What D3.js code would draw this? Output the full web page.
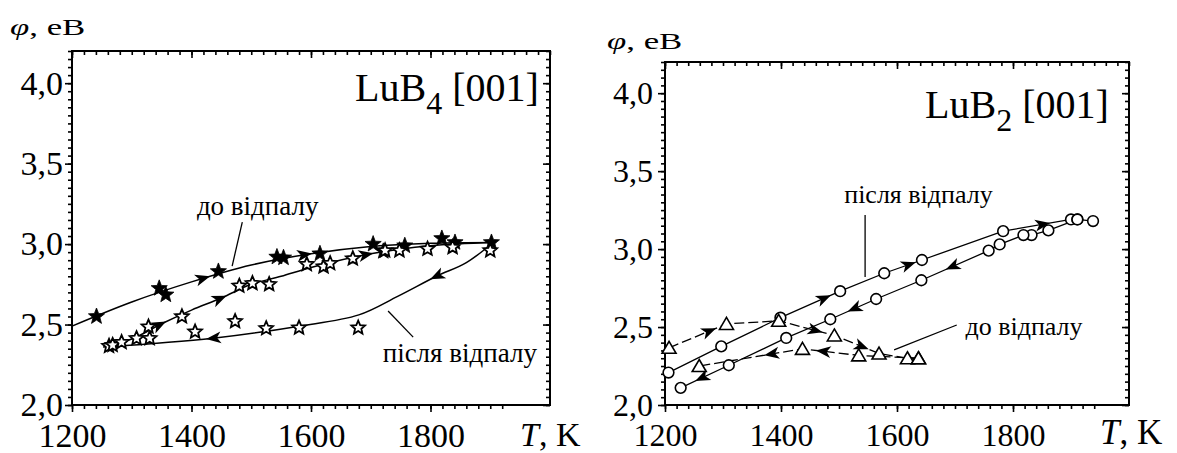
<!DOCTYPE html>
<meta http-equiv="Content-type" content="text/html; charset=UTF-8"/>
<style>
body { margin: 0; background: #fff }
svg { display: block }
svg, svg text { font-family: 'Liberation Serif', 'Times New Roman', serif }
</style>
<svg width="1177" height="453" font-family="Liberation Serif"></svg>
<script src="https://d3js.org/d3.v7.min.js"></script>
<script>
// ---------- LuB4 [001] (left) ----------
// measured points [T, phi]
var lub4BeforePts = [[1241,2.55],[1346,2.725],[1357,2.685],[1445,2.83],[1543,2.92],[1554,2.915],
  [1615,2.94],[1704,3.0],[1721,2.955],[1757,2.99],[1819,3.035],[1841,3.01],[1902,3.01]];
var lub4AfterPts = [[1262,2.366],[1268,2.372],[1283,2.39],[1308,2.414],[1330,2.414],[1328,2.486],
  [1384,2.55],[1406,2.455],[1473,2.52],[1480,2.74],[1502,2.756],[1530,2.75],[1525,2.476],
  [1580,2.48],[1593,2.875],[1621,2.86],[1632,2.88],[1670,2.91],[1679,2.48],[1724,2.96],
  [1748,2.96],[1795,2.97],[1837,2.98],[1900,2.96]];
// hand drawn fit curves, in drawing order
var lub4BeforeFit = [[1200,2.49],[1300,2.64],[1400,2.765],[1500,2.87],[1600,2.94],[1700,2.985],[1800,3.005],[1910,3.01]];
var lub4HeatFit = [[1255,2.365],[1300,2.41],[1350,2.505],[1400,2.59],[1450,2.665],[1500,2.75],[1550,2.80],
  [1600,2.855],[1700,2.94],[1800,2.99],[1905,3.01]];
var lub4CoolFit = [[1905,3.01],[1860,2.885],[1810,2.80],[1745,2.675],[1680,2.56],[1580,2.49],[1436,2.415],[1252,2.36]];
// arrow positions (T) on each curve
var lub4BeforeArrows = [1420, 1590];
var lub4HeatArrows = [1347, 1448, 1693];
var lub4CoolArrows = [1810, 1436];

// ---------- LuB2 [001] (right) ----------
var lub2AfterHeat = [[1206,2.208],[1297,2.376],[1399,2.56],[1502,2.73],[1578,2.845],[1643,2.93],
  [1783,3.115],[1900,3.19],[1911,3.19],[1938,3.18]];
var lub2AfterCool = [[1911,3.19],[1861,3.12],[1832,3.09],[1818,3.09],[1777,3.03],[1758,2.99],
  [1642,2.80],[1564,2.68],[1485,2.55],[1409,2.43],[1310,2.255],[1227,2.11]];
var lub2BeforeHeat = [[1207,2.367],[1306,2.52],[1396,2.54],[1492,2.446],[1569,2.33],[1618,2.30],[1637,2.30]];
var lub2BeforeCool = [[1637,2.30],[1534,2.318],[1437,2.36],[1259,2.25]];
var lub2AfterHeatArrows = [1475, 1621, 1852];
var lub2AfterCoolArrows = [1695, 1526, 1263];
var lub2BeforeHeatArrows = [1277, 1460, 1540];
var lub2BeforeCoolArrows = [1472, 1383];

// axis ticks
var xMajor = [1200, 1400, 1600, 1800];
var yMajor = [2.0, 2.5, 3.0, 3.5, 4.0];

var svg = d3.select("svg");
svg.append("rect").attr("width", 1177).attr("height", 453).attr("fill", "#fff");

function starPath(R, r) {
  var p = [];
  for (var i = 0; i < 10; i++) {
    var a = -Math.PI / 2 + i * Math.PI / 5, rr = i % 2 ? r : R;
    p.push([rr * Math.cos(a), rr * Math.sin(a)]);
  }
  return "M" + p.join("L") + "Z";
}
var triPath = "M0,-6.5L7,5.5L-7,5.5Z";
var arrowPath = "M7,0L-8,-6L-4,0L-8,6Z";

function fmt(v) { return d3.format(".1f")(v).replace(".", ","); }

// find point on rendered path where x == px
function pointAtX(node, px) {
  var L = node.getTotalLength();
  var inc = node.getPointAtLength(L).x > node.getPointAtLength(0).x;
  var lo = 0, hi = L;
  for (var i = 0; i < 40; i++) {
    var mid = (lo + hi) / 2, p = node.getPointAtLength(mid);
    if ((p.x < px) === inc) lo = mid; else hi = mid;
  }
  var l = (lo + hi) / 2;
  var a = node.getPointAtLength(Math.max(0, l - 3)), b = node.getPointAtLength(Math.min(L, l + 3));
  var c = node.getPointAtLength(l);
  return {x: c.x, y: c.y, angle: Math.atan2(b.y - a.y, b.x - a.x) * 180 / Math.PI};
}

function panel(o) {
  var x = d3.scaleLinear().domain([1200, 2000]).range([o.left, o.right]);
  var y = d3.scaleLinear().domain([2.0, 4.2]).range([o.bottom, o.top]);
  var g = svg.append("g");
  var xMinor = d3.range(1200, 2001, 20), yMinor = d3.range(0, 45).map(function(i) { return +(2 + i * 0.05).toFixed(2); });

  function ax(axis, tr, vals, size, fmtf, pad) {
    var a = g.append("g").attr("transform", tr)
      .call(axis.tickValues(vals).tickSize(size).tickPadding(pad || 0).tickFormat(fmtf || ""));
    a.attr("font-family", "Liberation Serif");
    a.select(".domain").remove();
    a.selectAll("line").attr("stroke", "#000").attr("stroke-width", 1.6);
    return a;
  }
  // bottom (outward)
  ax(d3.axisBottom(x), "translate(0," + o.bottom + ")", xMinor.filter(function(d) { return d <= o.tickCut; }), 4);
  ax(d3.axisBottom(x), "translate(0," + o.bottom + ")", xMajor, 7, d3.format("d"), 11)
    .selectAll("text").attr("font-size", o.tickFont).attr("fill", "#000");
  // top (inward)
  ax(d3.axisBottom(x), "translate(0," + o.top + ")", xMinor, 4);
  ax(d3.axisBottom(x), "translate(0," + o.top + ")", xMajor, 7);
  // left (outward)
  ax(d3.axisLeft(y), "translate(" + o.left + ",0)", yMinor, 4);
  ax(d3.axisLeft(y), "translate(" + o.left + ",0)", yMajor, 7, fmt, o.yPad)
    .selectAll("text").attr("font-size", o.tickFont).attr("fill", "#000");
  // right (inward)
  ax(d3.axisLeft(y), "translate(" + o.right + ",0)", yMinor, 4);
  ax(d3.axisLeft(y), "translate(" + o.right + ",0)", yMajor, 7);

  g.append("rect").attr("x", o.left).attr("y", o.top)
    .attr("width", o.right - o.left).attr("height", o.bottom - o.top)
    .attr("fill", "none").attr("stroke", "#000").attr("stroke-width", 2);

  // axis titles (phi label is drawn wide, as in the original)
  g.append("text").attr("font-size", 24)
    .attr("transform", "translate(" + o.phiX + "," + o.phiY + ") scale(1.45,1)")
    .html('<tspan font-style="italic">φ</tspan>, eB');
  g.append("text").attr("x", o.tX).attr("y", o.tY).attr("font-size", o.tFont)
    .html('<tspan font-style="italic">T</tspan>, K');
  var t = g.append("text").attr("x", o.nameX).attr("y", o.nameY).attr("font-size", 40);
  t.append("tspan").text("LuB");
  t.append("tspan").attr("dy", 13).attr("font-size", 32).text(o.sub);
  t.append("tspan").attr("dy", -13).text(" [001]");

  // annotations
  o.notes.forEach(function(n) {
    g.append("text").attr("x", x(n.T)).attr("y", y(n.v)).attr("font-size", n.size).text(n.text);
    g.append("line").attr("x1", x(n.lead[0])).attr("y1", y(n.lead[1]))
      .attr("x2", x(n.lead[2])).attr("y2", y(n.lead[3]))
      .attr("stroke", "#000").attr("stroke-width", 1.3);
  });

  // curves
  o.lines.forEach(function(s) {
    var line = d3.line().x(function(d) { return x(d[0]); }).y(function(d) { return y(d[1]); })
      .curve(s.smooth ? d3.curveCatmullRom.alpha(0.5) : d3.curveLinear);
    var p = g.append("path").datum(s.data).attr("d", line)
      .attr("fill", "none").attr("stroke", "#000").attr("stroke-width", s.width || 1.5)
      .attr("stroke-dasharray", s.dash || null);
    s.arrows.forEach(function(T) {
      var q = pointAtX(p.node(), x(T));
      g.append("path").attr("d", arrowPath).attr("fill", "#000")
        .attr("transform", "translate(" + q.x + "," + q.y + ") rotate(" + q.angle + ")");
    });
  });

  // markers
  o.marks.forEach(function(m) {
    g.selectAll(null).data(m.data).enter().append("path")
      .attr("transform", function(d) { return "translate(" + x(d[0]) + "," + y(d[1]) + ")"; })
      .attr("d", m.d).attr("fill", m.fill).attr("stroke", "#000").attr("stroke-width", m.sw)
      .attr("stroke-linejoin", "miter");
  });
}

panel({
  left: 72, right: 550, top: 51, bottom: 405, tickCut: 1920, tickFont: 34, yPad: 2,
  phiX: 10, phiY: 35, tX: 520, tY: 446, tFont: 34,
  nameX: 355, nameY: 101, sub: "4",
  notes: [
    {T: 1409, v: 3.18, size: 27, text: "до відпалу", lead: [1468, 2.863, 1485, 3.137]},
    {T: 1720, v: 2.267, size: 27, text: "після відпалу", lead: [1729, 2.584, 1771, 2.422]}
  ],
  lines: [
    {data: lub4BeforeFit, smooth: true, arrows: lub4BeforeArrows},
    {data: lub4HeatFit, smooth: true, arrows: lub4HeatArrows},
    {data: lub4CoolFit, smooth: true, arrows: lub4CoolArrows}
  ],
  marks: [
    {data: lub4BeforePts, d: starPath(8.5, 3.6), fill: "#000", sw: 0.8},
    {data: lub4AfterPts, d: starPath(7.2, 3.3), fill: "#fff", sw: 1.8}
  ]
});

panel({
  left: 665, right: 1129, top: 62, bottom: 405, tickCut: 1940, tickFont: 32, yPad: 5,
  phiX: 607, phiY: 49, tX: 1100, tY: 444, tFont: 35,
  nameX: 925, nameY: 118, sub: "2",
  notes: [
    {T: 1509, v: 3.296, size: 26, text: "після відпалу", lead: [1545, 3.219, 1545, 2.821]},
    {T: 1718, v: 2.449, size: 26, text: "до відпалу", lead: [1595, 2.353, 1703, 2.513]}
  ],
  lines: [
    {data: lub2AfterHeat, arrows: lub2AfterHeatArrows, width: 1.3},
    {data: lub2AfterCool, arrows: lub2AfterCoolArrows, width: 1.3},
    {data: lub2BeforeHeat, arrows: lub2BeforeHeatArrows, width: 1.3, dash: "10,4"},
    {data: lub2BeforeCool, arrows: lub2BeforeCoolArrows, width: 1.3, dash: "10,4"}
  ],
  marks: [
    {data: lub2AfterHeat.concat(lub2AfterCool), d: d3.symbol(d3.symbolCircle, 90)(), fill: "#fff", sw: 1.6},
    {data: lub2BeforeHeat.concat(lub2BeforeCool), d: triPath, fill: "#fff", sw: 1.6}
  ]
});
</script>
